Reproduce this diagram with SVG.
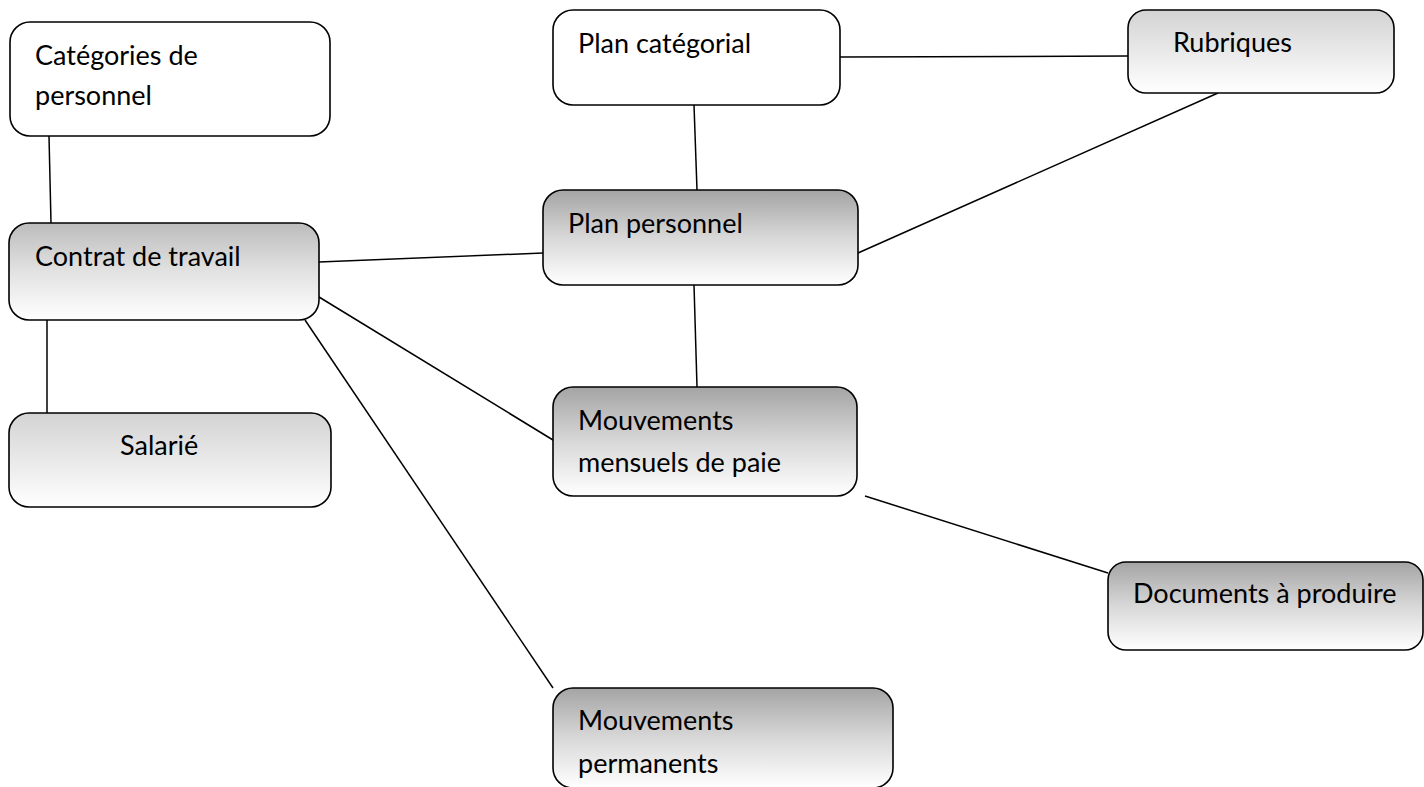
<svg xmlns="http://www.w3.org/2000/svg" width="1424" height="787" viewBox="0 0 1424 787">
<defs>
<linearGradient id="gDark" x1="0" y1="0" x2="0" y2="1">
<stop offset="0" stop-color="#a4a4a4"/>
<stop offset="0.5" stop-color="#d8d8d8"/>
<stop offset="1" stop-color="#ffffff"/>
</linearGradient>
<linearGradient id="gMid" x1="0" y1="0" x2="0" y2="1">
<stop offset="0" stop-color="#bcbcbc"/>
<stop offset="0.5" stop-color="#e2e2e2"/>
<stop offset="1" stop-color="#ffffff"/>
</linearGradient>
<linearGradient id="gLight" x1="0" y1="0" x2="0" y2="1">
<stop offset="0" stop-color="#d3d3d3"/>
<stop offset="0.5" stop-color="#e9e9e9"/>
<stop offset="1" stop-color="#ffffff"/>
</linearGradient>
</defs>
<style>
.box{stroke:#000;stroke-width:1.6}
.t{font-family:Lato,"Liberation Sans",sans-serif;font-size:27px;fill:#000}
.c line{stroke:#000;stroke-width:1.5}
</style>
<rect width="1424" height="787" fill="#fff"/>
<g class="c" id="connectors">
<line x1="49" y1="136" x2="51" y2="223"/>
<line x1="47" y1="320" x2="47" y2="413"/>
<line x1="319" y1="262" x2="543" y2="253"/>
<line x1="319" y1="297" x2="553" y2="440"/>
<line x1="305" y1="320" x2="553" y2="688"/>
<line x1="694" y1="105" x2="697" y2="190"/>
<line x1="840" y1="57" x2="1128" y2="56"/>
<line x1="1218" y1="93" x2="858" y2="253"/>
<line x1="694" y1="285" x2="697" y2="387"/>
<line x1="865" y1="496" x2="1108" y2="573"/>
</g>
<g id="n-categories"><rect class="box" x="10" y="22" width="320" height="114" rx="20" fill="#fff"/><text class="t" x="35" y="65">Catégories de</text><text class="t" x="35" y="105">personnel</text></g>
<g id="n-contrat"><rect class="box" x="9" y="223" width="310" height="97" rx="20" fill="url(#gMid)"/><text class="t" x="35" y="266">Contrat de travail</text></g>
<g id="n-salarie"><rect class="box" x="9" y="413" width="322" height="94" rx="20" fill="url(#gLight)"/><text class="t" x="120" y="455">Salarié</text></g>
<g id="n-plancat"><rect class="box" x="553" y="10" width="287" height="95" rx="20" fill="#fff"/><text class="t" x="578" y="53">Plan catégorial</text></g>
<g id="n-rubriques"><rect class="box" x="1128" y="10" width="266" height="83" rx="18" fill="url(#gLight)"/><text class="t" x="1173" y="52">Rubriques</text></g>
<g id="n-planpers"><rect class="box" x="543" y="190" width="315" height="95" rx="20" fill="url(#gDark)"/><text class="t" x="568" y="233">Plan personnel</text></g>
<g id="n-mensuels"><rect class="box" x="553" y="387" width="304" height="109" rx="20" fill="url(#gDark)"/><text class="t" x="578" y="430">Mouvements</text><text class="t" x="578" y="472">mensuels de paie</text></g>
<g id="n-documents"><rect class="box" x="1108" y="562" width="315" height="88" rx="18" fill="url(#gDark)"/><text class="t" x="1133" y="603">Documents à produire</text></g>
<g id="n-permanents"><rect class="box" x="553" y="688" width="340" height="100" rx="20" fill="url(#gDark)"/><text class="t" x="578" y="730">Mouvements</text><text class="t" x="578" y="773">permanents</text></g>
</svg>
